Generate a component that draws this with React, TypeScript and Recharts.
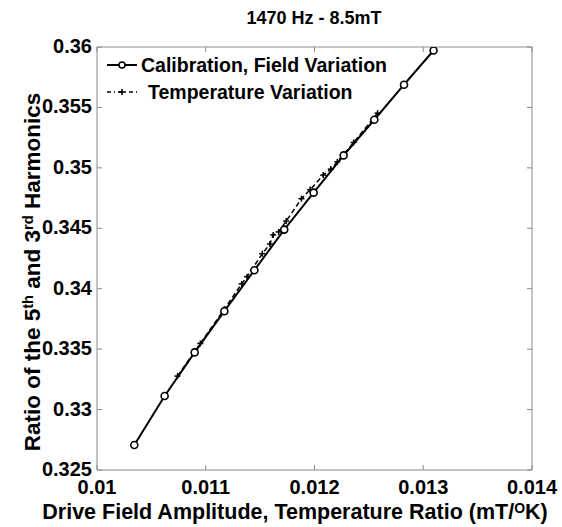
import React from 'react';
import {
  LineChart,
  Line,
  XAxis,
  YAxis,
  ReferenceArea,
} from 'recharts';

// calibration (field variation) points
const calX = [0.010343, 0.010622, 0.010898, 0.011171, 0.011447, 0.011722, 0.011992, 0.012268, 0.01255, 0.012823, 0.013095];
const calY = [0.32707, 0.33112, 0.33473, 0.33814, 0.34153, 0.34489, 0.34795, 0.35103, 0.35398, 0.35688, 0.35971];

// temperature variation points
const tempX = [0.01074, 0.01095, 0.01117, 0.01133, 0.01138, 0.01152, 0.01159, 0.01162, 0.01167, 0.01174, 0.01188, 0.01196, 0.01208, 0.01215, 0.01221, 0.01236, 0.01258];
const tempY = [0.33277, 0.33547, 0.3383, 0.3404, 0.341, 0.3429, 0.3437, 0.34445, 0.3447, 0.3456, 0.34745, 0.3482, 0.3494, 0.3499, 0.3505, 0.3521, 0.35453];

const xTicks = [0.01, 0.011, 0.012, 0.013, 0.014];
const yTicks = [0.325, 0.33, 0.335, 0.34, 0.345, 0.35, 0.355, 0.36];

const calData = calX.map((x, i) => ({ x, y: calY[i] }));
const tempData = tempX.map((x, i) => ({ x, y: tempY[i] }));

const W = 562;
const H = 527;
const PLOT_LEFT = 97;
const PLOT_RIGHT = 532;
const PLOT_TOP = 47;
const PLOT_BOTTOM = 470;
const FONT = '"Liberation Sans", Arial, sans-serif';
const AXIS = '#8a8a8a';

const fmt = (v: number) => String(Number(v.toFixed(3)));

function XTick({ x, payload }: any) {
  return (
    <g>
      <line x1={x} x2={x} y1={PLOT_BOTTOM} y2={PLOT_BOTTOM - 5} stroke={AXIS} />
      <line x1={x} x2={x} y1={PLOT_TOP} y2={PLOT_TOP + 5} stroke={AXIS} />
      <text x={x} y={494} textAnchor="middle" fontFamily={FONT} fontWeight="bold" fontSize={20} fill="#000">
        {fmt(payload.value)}
      </text>
    </g>
  );
}

function YTick({ y, payload }: any) {
  return (
    <g>
      <line x1={PLOT_LEFT} x2={PLOT_LEFT + 5} y1={y} y2={y} stroke={AXIS} />
      <line x1={PLOT_RIGHT} x2={PLOT_RIGHT - 5} y1={y} y2={y} stroke={AXIS} />
      <text x={92} y={y + 6} textAnchor="end" fontFamily={FONT} fontWeight="bold" fontSize={20} fill="#000">
        {fmt(payload.value)}
      </text>
    </g>
  );
}

function CircleDot({ cx, cy }: any) {
  return <circle cx={cx} cy={cy} r={3.5} fill="#fff" stroke="#000" strokeWidth={1.6} />;
}

function PlusDot({ cx, cy }: any) {
  return (
    <g stroke="#000" strokeWidth={1.5}>
      <line x1={cx - 3} x2={cx + 3} y1={cy} y2={cy} />
      <line x1={cx} x2={cx} y1={cy - 3} y2={cy + 3} />
    </g>
  );
}

function LegendBox() {
  return (
    <svg width={300} height={52} style={{ display: 'block' }}>
      <line x1={7} x2={37} y1={11} y2={11} stroke="#000" strokeWidth={2} />
      <circle cx={22} cy={11} r={3} fill="#fff" stroke="#000" strokeWidth={1.5} />
      <text x={41} y={18} fontFamily={FONT} fontWeight="bold" fontSize={19.5} fill="#000">
        Calibration, Field Variation
      </text>
      <line x1={7} x2={40} y1={38} y2={38} stroke="#000" strokeWidth={1.5} strokeDasharray="4 3 1 3" />
      <line x1={19} x2={25} y1={38} y2={38} stroke="#000" strokeWidth={1.5} />
      <line x1={22} x2={22} y1={35} y2={41} stroke="#000" strokeWidth={1.5} />
      <text x={48} y={45} fontFamily={FONT} fontWeight="bold" fontSize={19.5} fill="#000">
        Temperature Variation
      </text>
    </svg>
  );
}

export default function App() {
  const sup: React.CSSProperties = { fontSize: '0.65em', position: 'relative', top: '-0.45em', lineHeight: 0 };
  return (
    <div style={{ position: 'absolute', left: 0, top: 0, width: W, height: H, background: '#fff', fontFamily: FONT }}>
      <div style={{ position: 'absolute', left: 0, width: 628, top: 8, textAlign: 'center', fontWeight: 'bold', fontSize: 18, lineHeight: '20px' }}>
        1470 Hz - 8.5mT
      </div>
      <LineChart width={W} height={H} margin={{ top: PLOT_TOP, right: W - PLOT_RIGHT, bottom: 0, left: 0 }}>
        <XAxis
          type="number"
          dataKey="x"
          domain={[0.01, 0.014]}
          ticks={xTicks}
          allowDataOverflow
          height={H - PLOT_BOTTOM}
          axisLine={false}
          tickLine={false}
          tick={<XTick />}
          interval={0}
        />
        <YAxis
          type="number"
          dataKey="y"
          domain={[0.325, 0.36]}
          ticks={yTicks}
          allowDataOverflow
          width={PLOT_LEFT}
          axisLine={false}
          tickLine={false}
          tick={<YTick />}
          interval={0}
        />
        <ReferenceArea x1={0.01} x2={0.014} y1={0.325} y2={0.36} fill="none" stroke={AXIS} strokeWidth={1} />
        <Line
          data={tempData}
          dataKey="y"
          name="Temperature Variation"
          stroke="#000"
          strokeWidth={1.5}
          strokeDasharray="5 3"
          dot={<PlusDot />}
          activeDot={false}
          isAnimationActive={false}
        />
        <Line
          data={calData}
          dataKey="y"
          name="Calibration, Field Variation"
          stroke="#000"
          strokeWidth={2}
          dot={<CircleDot />}
          activeDot={false}
          isAnimationActive={false}
        />
      </LineChart>
      <div style={{ position: 'absolute', left: 100, top: 54 }}>
        <LegendBox />
      </div>
      <div style={{ position: 'absolute', left: 295 - 300, width: 600, top: 501, textAlign: 'center', fontWeight: 'bold', fontSize: 21.5, lineHeight: '22px', whiteSpace: 'nowrap' }}>
        Drive Field Amplitude, Temperature Ratio (mT/<span style={sup}>O</span>K)
      </div>
      <div
        style={{
          position: 'absolute',
          left: 33 - 240,
          top: 272 - 12,
          width: 480,
          height: 24,
          lineHeight: '24px',
          textAlign: 'center',
          fontWeight: 'bold',
          fontSize: 22.5,
          transform: 'rotate(-90deg)',
          whiteSpace: 'nowrap',
        }}
      >
        Ratio of the 5<span style={sup}>th</span> and 3<span style={sup}>rd</span> Harmonics
      </div>
    </div>
  );
}
